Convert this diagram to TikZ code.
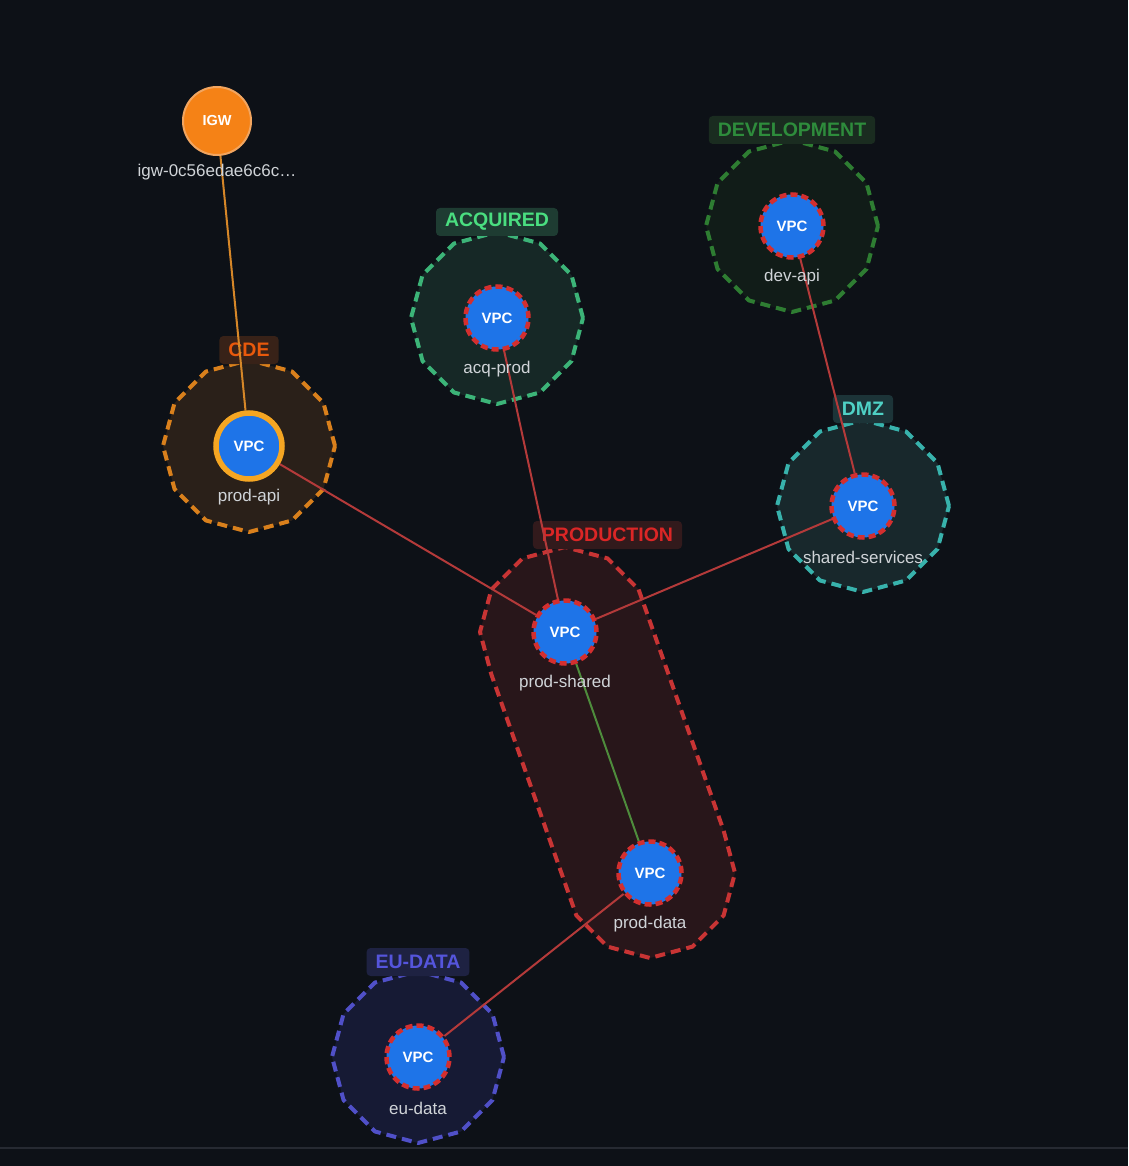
\documentclass[tikz,border=0pt]{standalone}
\usepackage{fontspec}
\setmainfont{Liberation Sans}
\usetikzlibrary{calc}

% Colours
\definecolor{bgDark}{RGB}{13,17,23}
\definecolor{ruleGray}{RGB}{38,42,50}
\definecolor{vpcBlue}{RGB}{30,116,232}
\definecolor{vpcRed}{RGB}{211,47,47}
\definecolor{apiRing}{RGB}{245,166,35}
\definecolor{igwFill}{RGB}{245,130,22}
\definecolor{igwRing}{RGB}{242,165,95}
\definecolor{igwLink}{RGB}{214,135,40}
\definecolor{linkRed}{RGB}{180,58,58}
\definecolor{linkGreen}{RGB}{78,140,60}
\definecolor{capGray}{RGB}{208,212,216}
\definecolor{cdeLine}{RGB}{217,128,28}
\definecolor{cdeFill}{RGB}{42,32,25}
\definecolor{cdeBox}{RGB}{56,34,24}
\definecolor{cdeText}{RGB}{232,89,12}
\definecolor{acqLine}{RGB}{60,180,120}
\definecolor{acqFill}{RGB}{22,40,38}
\definecolor{acqBox}{RGB}{30,60,50}
\definecolor{acqText}{RGB}{74,222,128}
\definecolor{devLine}{RGB}{46,125,50}
\definecolor{devFill}{RGB}{17,28,24}
\definecolor{devBox}{RGB}{26,44,32}
\definecolor{devText}{RGB}{46,140,60}
\definecolor{dmzLine}{RGB}{56,178,172}
\definecolor{dmzFill}{RGB}{24,40,44}
\definecolor{dmzBox}{RGB}{28,52,56}
\definecolor{dmzText}{RGB}{79,209,197}
\definecolor{prodLine}{RGB}{200,52,52}
\definecolor{prodFill}{RGB}{40,22,26}
\definecolor{prodBox}{RGB}{50,26,28}
\definecolor{prodText}{RGB}{220,38,38}
\definecolor{euLine}{RGB}{80,80,200}
\definecolor{euFill}{RGB}{22,26,52}
\definecolor{euBox}{RGB}{30,34,66}
\definecolor{euText}{RGB}{85,85,220}

\pgfdeclarelayer{zones}
\pgfdeclarelayer{links}
\pgfsetlayers{zones,links,main}

\tikzset{
  vpc/.style={circle, fill=vpcBlue, draw=vpcRed, line width=4.5pt,
    dash pattern=on 7pt off 4pt, minimum size=63pt, inner sep=0pt,
    text=white, font=\fontsize{15}{15}\selectfont\bfseries},
  caption/.style={text=capGray, inner sep=0pt, font=\fontsize{17}{17}\selectfont},
  zone/.style={line width=4pt, dash pattern=on 10pt off 6pt, line join=round},
  tag/.style={rounded corners=4pt, minimum height=28pt, inner xsep=9pt,
    font=\fontsize{19.5}{19.5}\selectfont\bfseries},
  link/.style={line width=2pt, draw=linkRed},
}

\begin{document}
\begin{tikzpicture}[x=1pt, y=1pt]
    \useasboundingbox (0,0) rectangle (1128,-1166);

    % Gateway and VPCs
    \node[circle, fill=igwFill, draw=igwRing, line width=2pt, minimum size=68pt,
      inner sep=0pt, text=white, font=\fontsize{14.5}{14.5}\selectfont\bfseries] (igw) at (217,-121) {IGW};
    \node[vpc, draw=apiRing, solid, line width=5.5pt, minimum size=66pt] (apiVpc) at (249,-446) {VPC};
    \node[vpc] (acqVpc) at (497,-318) {VPC};
    \node[vpc] (devVpc) at (792,-226) {VPC};
    \node[vpc] (sharedVpc) at (863,-506) {VPC};
    \node[vpc] (psVpc) at (565,-632) {VPC};
    \node[vpc] (pdVpc) at (650,-873) {VPC};
    \node[vpc] (euVpc) at (418,-1057) {VPC};

    % Captions below
    \foreach \n/\t in {igw/igw-0c56edae6c6c…, apiVpc/prod-api, acqVpc/acq-prod, devVpc/dev-api,
        sharedVpc/shared-services, psVpc/prod-shared, pdVpc/prod-data, euVpc/eu-data} {
        \node[caption] (\n Cap) at ($(\n)+(0,-51)$) {\t};
    }

    \begin{pgfonlayer}{zones}
        \fill[bgDark] (0,0) rectangle (1128,-1166);
        \draw[ruleGray, line width=2pt] (0,-1148) -- (1128,-1148);

        % Round zones
        \foreach \v/\c in {apiVpc/cde, acqVpc/acq, devVpc/dev, sharedVpc/dmz, euVpc/eu} {
            \draw[zone, draw=\c Line, fill=\c Fill] ($(\v)+(0:86)$)
                \foreach \a in {30,60,...,330} {-- ($(\v)+(\a:86)$)} -- cycle;
        }

        % Production zone round both VPCs
        \draw[zone, draw=prodLine, fill=prodFill] ($(psVpc)+(30:85)$)
            \foreach \a in {30,0,...,-150} {-- ($(pdVpc)+(\a:85)$)}
            \foreach \a in {-150,-180,...,-330} {-- ($(psVpc)+(\a:85)$)} -- cycle;

        % Zone tags
        \node[tag, fill=cdeBox, text=cdeText] (cdeTag) at ($(apiVpc)+(0,96)$) {CDE};
        \node[tag, fill=acqBox, text=acqText] (acqTag) at ($(acqVpc)+(0,96)$) {ACQUIRED};
        \node[tag, fill=devBox, text=devText] (devTag) at ($(devVpc)+(0,96)$) {DEVELOPMENT};
        \node[tag, fill=dmzBox, text=dmzText] (dmzTag) at ($(sharedVpc)+(0,97)$) {DMZ};
        \node[tag, fill=euBox, text=euText] (euTag) at ($(euVpc)+(0,95)$) {EU-DATA};
        \coordinate (prodMid) at ($(psVpc)!0.5!(pdVpc)$);
        \node[tag, fill=prodBox, text=prodText] (prodTag) at ($(prodMid |- psVpc)+(0,97)$) {PRODUCTION};
    \end{pgfonlayer}

    % Connections
    \begin{pgfonlayer}{links}
        \draw[link, draw=igwLink] (igw) -- (apiVpc);
        \foreach \a/\b in {apiVpc/psVpc, acqVpc/psVpc, sharedVpc/psVpc, devVpc/sharedVpc, pdVpc/euVpc} {
            \draw[link] (\a) -- (\b);
        }
        \draw[link, draw=linkGreen] (psVpc) -- (pdVpc);
    \end{pgfonlayer}
\end{tikzpicture}
\end{document}
